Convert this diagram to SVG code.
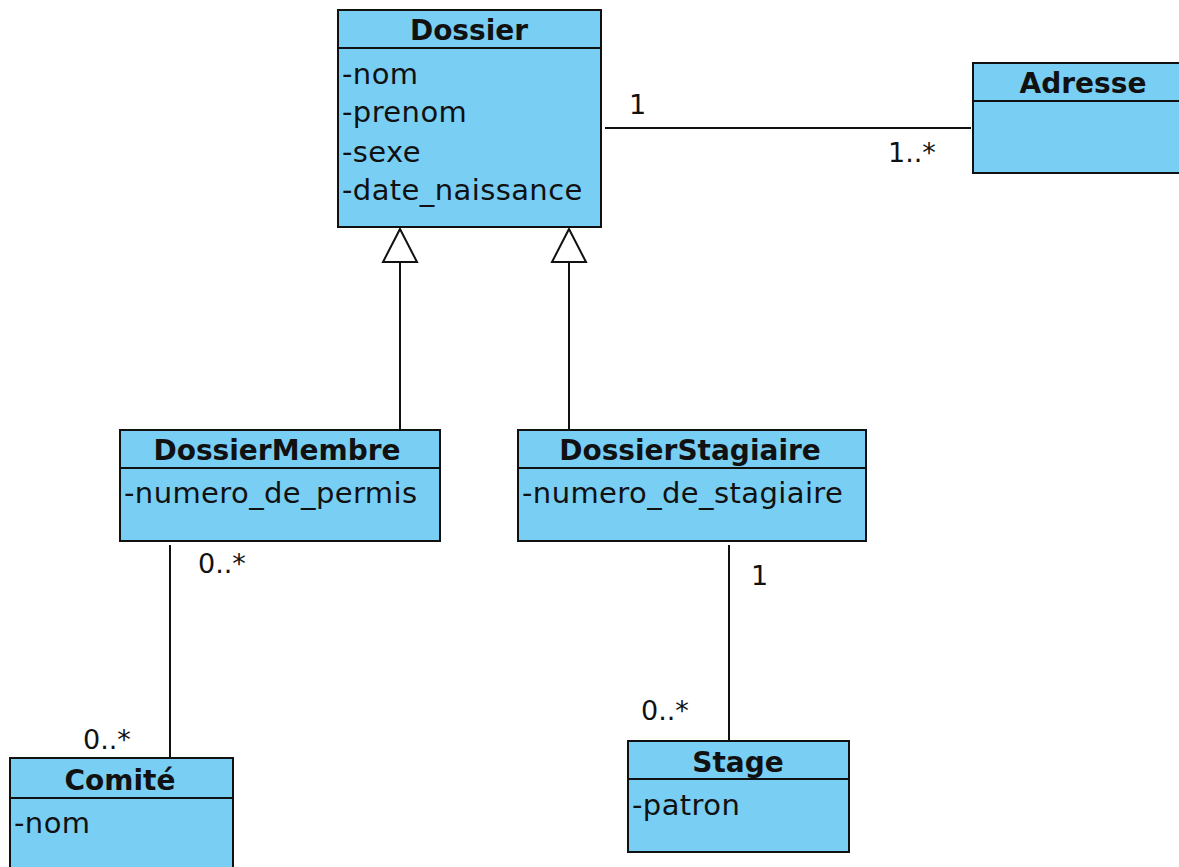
<svg xmlns="http://www.w3.org/2000/svg" width="1179" height="867" viewBox="0 0 1179 867">
  <style>
    .box { fill: #79CEF4; stroke: #111; stroke-width: 2; }
    .sep { stroke: #111; stroke-width: 2; }
    .title { font-family: "DejaVu Sans", sans-serif; font-weight: bold; font-size: 28px; fill: #111; text-anchor: middle; }
    .attr { font-family: "DejaVu Sans", sans-serif; font-size: 29px; letter-spacing: 0.4px; fill: #111; }
    .mult { font-family: "DejaVu Sans", sans-serif; font-size: 27px; fill: #111; }
    .line { stroke: #111; stroke-width: 2; fill: none; }
    .tri { fill: #fff; stroke: #111; stroke-width: 2; }
  </style>
  <rect width="1179" height="867" fill="#fff"/>

  <!-- connectors -->
  <g id="connectors">
    <line class="line" x1="605" y1="128" x2="971" y2="128"/>
    <line class="line" x1="400" y1="262" x2="400" y2="429"/>
    <polygon class="tri" points="400,229 417,262 383,262"/>
    <line class="line" x1="569" y1="262" x2="569" y2="429"/>
    <polygon class="tri" points="569,229 586,262 552,262"/>
    <line class="line" x1="170" y1="545" x2="170" y2="757"/>
    <line class="line" x1="729" y1="545" x2="729" y2="740"/>
    <text class="mult" x="629" y="114">1</text>
    <text class="mult" x="888" y="162">1..*</text>
    <text class="mult" x="198" y="573">0..*</text>
    <text class="mult" x="83" y="749">0..*</text>
    <text class="mult" x="751" y="585">1</text>
    <text class="mult" x="641" y="720">0..*</text>
  </g>

  <g id="Dossier">
    <rect class="box" x="338" y="10" width="263" height="217"/>
    <line class="sep" x1="338" y1="48" x2="601" y2="48"/>
    <text class="title" x="469" y="40">Dossier</text>
    <text class="attr" x="342" y="84">-nom</text>
    <text class="attr" x="342" y="122">-prenom</text>
    <text class="attr" x="342" y="162">-sexe</text>
    <text class="attr" x="342" y="200">-date_naissance</text>
  </g>

  <g id="Adresse">
    <rect class="box" x="973" y="63" width="210" height="110"/>
    <line class="sep" x1="973" y1="101" x2="1183" y2="101"/>
    <text class="title" x="1083" y="93">Adresse</text>
  </g>

  <g id="DossierMembre">
    <rect class="box" x="120" y="430" width="320" height="111"/>
    <line class="sep" x1="120" y1="468" x2="440" y2="468"/>
    <text class="title" x="277" y="460">DossierMembre</text>
    <text class="attr" x="124" y="503">-numero_de_permis</text>
  </g>

  <g id="DossierStagiaire">
    <rect class="box" x="518" y="430" width="348" height="111"/>
    <line class="sep" x1="518" y1="468" x2="866" y2="468"/>
    <text class="title" x="690" y="460">DossierStagiaire</text>
    <text class="attr" x="522" y="503">-numero_de_stagiaire</text>
  </g>

  <g id="Comite">
    <rect class="box" x="10" y="758" width="223" height="115"/>
    <line class="sep" x1="10" y1="798" x2="233" y2="798"/>
    <text class="title" x="120" y="790">Comité</text>
    <text class="attr" x="14" y="833">-nom</text>
  </g>

  <g id="Stage">
    <rect class="box" x="628" y="741" width="221" height="111"/>
    <line class="sep" x1="628" y1="779" x2="849" y2="779"/>
    <text class="title" x="738" y="772">Stage</text>
    <text class="attr" x="632" y="815">-patron</text>
  </g>
</svg>
